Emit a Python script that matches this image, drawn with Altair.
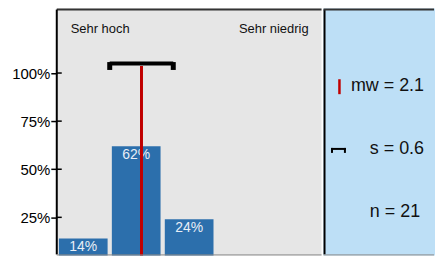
import altair as alt
import pandas as pd

# ---- data ----
categories = [1, 2, 3, 4, 5]
shares = [0.14, 0.62, 0.24, 0.0, 0.0]
share_labels = ["14%", "62%", "24%", "", ""]
mean_value = 2.1
sd_value = 0.6
n_value = 21
y_ticks = [0.25, 0.5, 0.75, 1.0]
scale_low_label = "Sehr hoch"
scale_high_label = "Sehr niedrig"
stat_labels = ["mw = 2.1", "s = 0.6", "n = 21"]

# ---- style ----
BAR_COLOR = "#2c6fac"
RED = "#c00000"
GRAY_BG = "#e6e6e6"
BLUE_BG = "#bddff6"
FONT = "Liberation Sans"
ERR_Y = 1.049      # vertical placement of the spread bracket (value space)
CAP_TOP, CAP_BOT = 1.057, 1.016
MEAN_TOP = 1.036
PANEL_W, STAT_W, PANEL_H = 266, 112, 248

x_scale = alt.Scale(domain=[0.5, 5.5], nice=False, zero=False)
y_scale = alt.Scale(domain=[0.052, 1.335], nice=False, zero=False)

bars_df = pd.DataFrame({"k": categories, "share": shares, "label": share_labels})
stats_df = pd.DataFrame({"m": [mean_value], "s": [sd_value]})
ticks_df = pd.DataFrame({"t": y_ticks})
one_row = alt.Data(values=[{}])

bars = (
    alt.Chart(bars_df)
    .transform_filter("datum.share > 0")
    .transform_calculate(x0="datum.k - 0.46", x1="datum.k + 0.46", zero="0")
    .mark_rect(color=BAR_COLOR, clip=True)
    .encode(
        x=alt.X("x0:Q", scale=x_scale, axis=None),
        x2="x1:Q",
        y=alt.Y(
            "share:Q",
            scale=y_scale,
            title=None,
            axis=alt.Axis(
                values=y_ticks,
                format=".0%",
                grid=False,
                title=None,
                domain=False,
                labelFont=FONT,
                labelFontSize=15,
                labelColor="#000000",
                tickColor="#000000",
                tickSize=6,
                tickWidth=1.5,
                labelPadding=1,
            ),
        ),
        y2="zero:Q",
    )
)

bar_text = (
    alt.Chart(bars_df)
    .transform_filter("datum.share > 0")
    .mark_text(font=FONT, fontSize=14, color="#e8eef6", baseline="top", dy=2)
    .encode(
        x=alt.X("k:Q", scale=x_scale, axis=None),
        y=alt.Y("share:Q", scale=y_scale, axis=None),
        text="label:N",
    )
)

inner_ticks = (
    alt.Chart(ticks_df)
    .mark_rule(color="#000000", strokeWidth=1.5)
    .encode(
        y=alt.Y("t:Q", scale=y_scale, axis=None),
        x=alt.value(0),
        x2=alt.value(5),
    )
)

mean_line = (
    alt.Chart(stats_df)
    .transform_calculate(y0="0", y1=str(MEAN_TOP))
    .mark_rule(color=RED, strokeWidth=3, clip=True)
    .encode(
        x=alt.X("m:Q", scale=x_scale, axis=None),
        y=alt.Y("y0:Q", scale=y_scale, axis=None),
        y2="y1:Q",
    )
)

spread_bar = (
    alt.Chart(stats_df)
    .transform_calculate(lo="datum.m - datum.s", hi="datum.m + datum.s", yy=str(ERR_Y))
    .mark_rule(color="#000000", strokeWidth=4)
    .encode(
        x=alt.X("lo:Q", scale=x_scale, axis=None),
        x2="hi:Q",
        y=alt.Y("yy:Q", scale=y_scale, axis=None),
    )
)

spread_caps = (
    alt.Chart(stats_df)
    .transform_calculate(lo="datum.m - datum.s", hi="datum.m + datum.s")
    .transform_fold(["lo", "hi"], as_=["end", "xv"])
    .transform_calculate(ya=str(CAP_TOP), yb=str(CAP_BOT))
    .mark_rule(color="#000000", strokeWidth=5)
    .encode(
        x=alt.X("xv:Q", scale=x_scale, axis=None),
        y=alt.Y("ya:Q", scale=y_scale, axis=None),
        y2="yb:Q",
    )
)

low_label = (
    alt.Chart(alt.Data(values=[{"t": scale_low_label}]))
    .mark_text(font=FONT, fontSize=13, color="#111111", align="left", baseline="alphabetic")
    .encode(x=alt.value(14), y=alt.value(25), text="t:N")
)
high_label = (
    alt.Chart(alt.Data(values=[{"t": scale_high_label}]))
    .mark_text(font=FONT, fontSize=13, color="#111111", align="right", baseline="alphabetic")
    .encode(x=alt.value(253), y=alt.value(25), text="t:N")
)

top_line_left = (
    alt.Chart(one_row).mark_rule(color="#333333", strokeWidth=2)
    .encode(x=alt.value(0), x2=alt.value(PANEL_W), y=alt.value(1))
)
left_border = (
    alt.Chart(one_row).mark_rule(color="#000000", strokeWidth=2)
    .encode(x=alt.value(0), y=alt.value(1), y2=alt.value(PANEL_H - 1))
)
bottom_line_left = (
    alt.Chart(one_row).mark_rule(color="#888888", strokeWidth=1)
    .encode(x=alt.value(0), x2=alt.value(PANEL_W), y=alt.value(PANEL_H - 0.5))
)

left = alt.layer(
    bars, bar_text, mean_line, spread_bar, spread_caps, inner_ticks,
    low_label, high_label, top_line_left, left_border, bottom_line_left,
).resolve_axis(y="independent", x="independent").properties(
    width=PANEL_W,
    height=PANEL_H,
    view=alt.ViewBackground(fill=GRAY_BG, strokeWidth=0),
)

# ---- right statistics panel ----
stat_df = pd.DataFrame({"label": stat_labels})
stat_y = alt.Scale(type="point", domain=stat_labels, range=[77.5, 204.5], padding=0)

stat_mw = (
    alt.Chart(stat_df)
    .transform_filter(alt.datum.label == stat_labels[0])
    .mark_text(font=FONT, fontSize=18, color="#111111", align="left", baseline="middle")
    .encode(x=alt.value(27.5), y=alt.Y("label:N", scale=stat_y, axis=None), text="label:N")
)
stat_rest = (
    alt.Chart(stat_df)
    .transform_filter(alt.datum.label != stat_labels[0])
    .mark_text(font=FONT, fontSize=18, color="#111111", align="left", baseline="middle")
    .encode(x=alt.value(46.5), y=alt.Y("label:N", scale=stat_y, axis=None), text="label:N")
)

mw_icon = (
    alt.Chart(one_row)
    .mark_rule(color=RED, strokeWidth=2.5)
    .encode(x=alt.value(16), y=alt.value(71), y2=alt.value(86))
)
s_icon_bar = (
    alt.Chart(one_row)
    .mark_rule(color="#000000", strokeWidth=2)
    .encode(x=alt.value(7.5), x2=alt.value(22.5), y=alt.value(141))
)
s_icon_cap_l = (
    alt.Chart(one_row)
    .mark_rule(color="#000000", strokeWidth=2)
    .encode(x=alt.value(8.5), y=alt.value(140), y2=alt.value(145))
)
s_icon_cap_r = (
    alt.Chart(one_row)
    .mark_rule(color="#000000", strokeWidth=2)
    .encode(x=alt.value(21.5), y=alt.value(140), y2=alt.value(145))
)
separator = (
    alt.Chart(one_row).mark_rule(color="#000000", strokeWidth=2)
    .encode(x=alt.value(1), y=alt.value(1), y2=alt.value(PANEL_H - 1))
)
top_line_right = (
    alt.Chart(one_row).mark_rule(color="#333333", strokeWidth=2)
    .encode(x=alt.value(0), x2=alt.value(STAT_W - 1), y=alt.value(1))
)
bottom_line_right = (
    alt.Chart(one_row).mark_rule(color="#888888", strokeWidth=1)
    .encode(x=alt.value(0), x2=alt.value(STAT_W - 1), y=alt.value(PANEL_H - 0.5))
)

right = alt.layer(
    stat_mw, stat_rest, mw_icon, s_icon_bar, s_icon_cap_l, s_icon_cap_r,
    separator, top_line_right, bottom_line_right,
).properties(
    width=STAT_W,
    height=PANEL_H,
    view=alt.ViewBackground(fill=BLUE_BG, strokeWidth=0),
)

chart = (
    alt.hconcat(left, right, spacing=0)
    .configure(padding={"left": 3, "top": 0, "right": 0, "bottom": 0}, background="white")
)

chart.save("out.html", embed_options={"renderer": "svg", "actions": False})
